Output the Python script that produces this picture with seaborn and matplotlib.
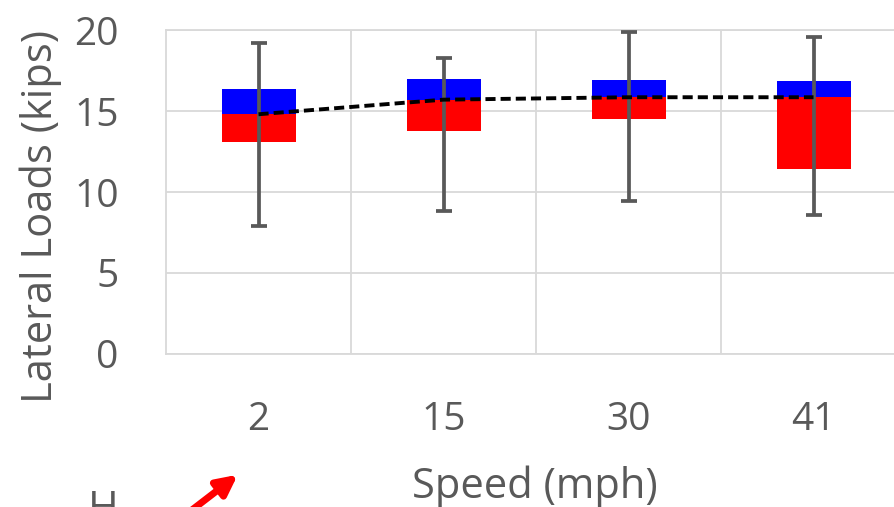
import numpy as np
import pandas as pd
import seaborn as sns
import matplotlib.pyplot as plt

# values
speeds = ['2', '15', '30', '41']
q1 = [13.1, 13.75, 14.5, 11.4]
median = [14.8, 15.7, 15.85, 15.85]
q3 = [16.35, 16.95, 16.9, 16.85]
low = [7.9, 8.85, 9.45, 8.55]
high = [19.2, 18.3, 19.9, 19.55]

df = pd.DataFrame({'speed': speeds, 'q1': q1, 'median': median, 'q3': q3,
                   'low': low, 'high': high})
df['lower_box'] = df['median'] - df['q1']
df['upper_box'] = df['q3'] - df['median']

sns.set_theme(style='white')
plt.rcParams['font.family'] = ['Open Sans', 'DejaVu Sans']

grey = '#595959'
gridc = '#d9d9d9'

fig = plt.figure(figsize=(8.95, 5.07), dpi=100)
ax = fig.add_axes([0.1855, 0.3018, 0.8268, 0.639])

sns.barplot(data=df, x='speed', y='lower_box', bottom=df['q1'].to_numpy(),
            color='#ff0000', saturation=1, width=0.4, linewidth=0, ax=ax)
sns.barplot(data=df, x='speed', y='upper_box', bottom=df['median'].to_numpy(),
            color='#0000ff', saturation=1, width=0.4, linewidth=0, ax=ax)

pos = np.arange(len(speeds))
med = df['median'].to_numpy()
ax.errorbar(pos, med, yerr=[med - df['low'].to_numpy(), df['high'].to_numpy() - med],
            fmt='none', ecolor=grey, elinewidth=2.7, capsize=5.5, capthick=2.7, zorder=3)
ax.plot(pos, med, color='black', lw=2.8, dashes=(2.6, 1.3), zorder=4)

ax.set_xlim(-0.5, 3.5)
ax.set_ylim(0, 20)
ax.set_yticks([0, 5, 10, 15, 20])
ax.set_xticks([0.5, 1.5, 2.5], minor=True)
ax.set_axisbelow(True)
ax.yaxis.grid(True, color=gridc, lw=1.3)
ax.xaxis.grid(True, which='minor', color=gridc, lw=1.3)
ax.xaxis.grid(False, which='major')
for s in ax.spines.values():
    s.set_color(gridc)
    s.set_linewidth(1.3)
ax.spines['right'].set_visible(False)

ax.tick_params(axis='both', which='both', length=0, labelsize=28, labelcolor=grey)
ax.tick_params(axis='x', pad=34)
ax.tick_params(axis='y', pad=34)

ax.set_xlabel('Speed (mph)', fontsize=30, color=grey)
ax.set_ylabel('Lateral Loads (kips)', fontsize=30, color=grey)
ax.xaxis.set_label_coords(0.4986, -0.345)
ax.yaxis.set_label_coords(-0.14, 0.423)

# fragment of the surrounding page visible at the bottom edge
fig.text(0.098, 0.036, 'H', fontsize=30, color=grey, va='top', ha='left')
ax.annotate('', xy=(240, 34), xycoords='figure pixels',
            xytext=(188, -6), textcoords='figure pixels',
            arrowprops=dict(arrowstyle='-|>', color='red', lw=5, mutation_scale=30),
            annotation_clip=False)

fig.savefig('out.png', dpi=100, facecolor='white')
